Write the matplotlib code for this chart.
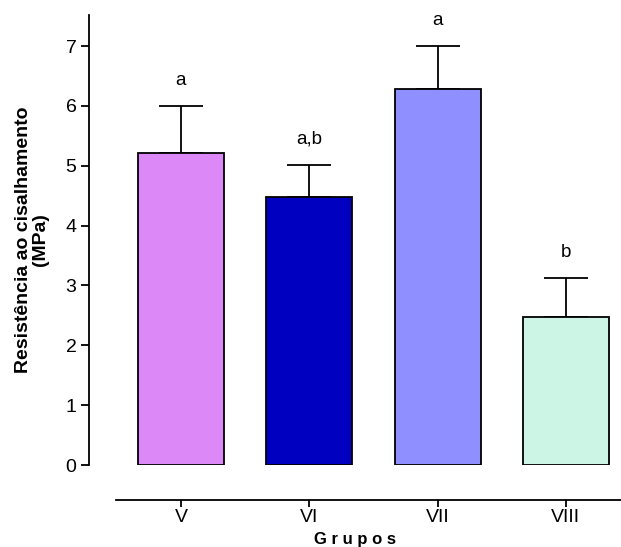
import matplotlib.pyplot as plt

plt.rcParams['font.family'] = ['Liberation Sans', 'DejaVu Sans']

# Data
groups = ['V', 'VI', 'VII', 'VIII']
means = [5.22, 4.48, 6.29, 2.47]
errors = [0.78, 0.54, 0.72, 0.66]
letters = ['a', 'a,b', 'a', 'b']
colors = ['#dd88f7', '#0000c0', '#8f8fff', '#ccf5e6']

fig = plt.figure(figsize=(6.21, 5.47), dpi=100)
ax = fig.add_axes([89 / 621, 1 - 465 / 547, 532 / 621, 450 / 547])

x = list(range(len(groups)))
ax.bar(x, means, width=0.67, color=colors, edgecolor='black', linewidth=1.3, zorder=2)
ax.errorbar(x, means, yerr=[[0] * len(errors), errors], fmt='none',
            ecolor='black', elinewidth=1.3, capsize=16, capthick=1.3, zorder=1)

# Significance letters above error bars
for i in x:
    ax.annotate(letters[i], (i, means[i] + errors[i]), xytext=(0, 12),
                textcoords='offset points', ha='center', va='bottom', fontsize=13.5)

ax.set_xlim(-0.717, 3.43)
ax.set_ylim(0, 7.52)
ax.set_yticks(range(0, 8))
ax.set_xticks(x)
ax.set_xticklabels(groups)

# Detached x axis like the original
ax.spines['top'].set_visible(False)
ax.spines['right'].set_visible(False)
ax.spines['bottom'].set_position(('outward', 25))
ax.spines['bottom'].set_bounds(-0.51, 3.5)
ax.spines['left'].set_linewidth(1.3)
ax.spines['bottom'].set_linewidth(1.3)

ax.tick_params(axis='y', length=6, width=1.3, labelsize=14, pad=3)
ax.tick_params(axis='x', length=5, width=1.3, labelsize=14, pad=2)

ax.set_ylabel('Resistência ao cisalhamento\n(MPa)', fontsize=14, fontweight='bold',
              linespacing=1.0, labelpad=12)
ax.set_xlabel('G r u p o s', fontsize=12, fontweight='bold', labelpad=4)

fig.savefig('out.png', dpi=100)
